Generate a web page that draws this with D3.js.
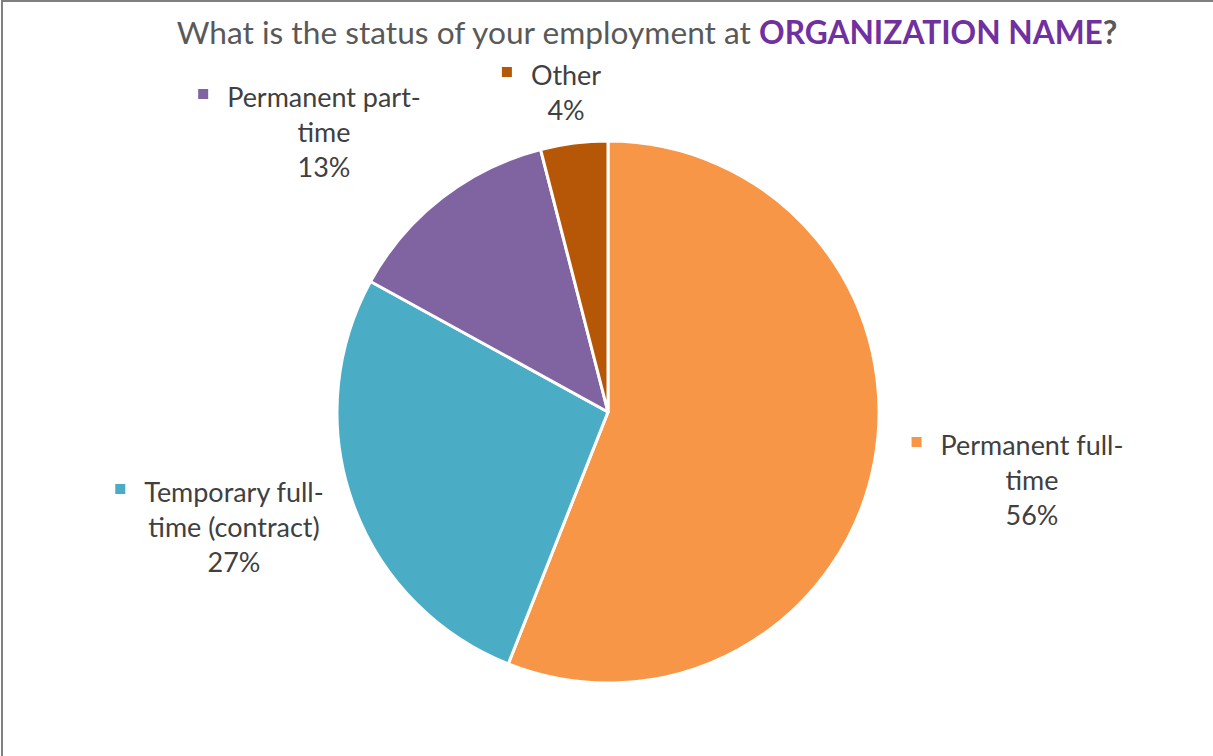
<!DOCTYPE html>
<html>
<head>
<meta charset="utf-8">
<script src="https://cdn.jsdelivr.net/npm/d3@7"></script>
<style>
  html, body { margin: 0; padding: 0; background: #fff; overflow: hidden; }
  svg { display: block; }
</style>
</head>
<body>
<svg id="chart" width="1213" height="756"></svg>
<script>
// Survey answers: employment status
const categories = ["Permanent full-time", "Temporary full-time (contract)", "Permanent part-time", "Other"];
const values = [56, 27, 13, 4];
const labelLines = [["Permanent full-", "time"], ["Temporary full-", "time (contract)"], ["Permanent part-", "time"], ["Other"]];
const sliceColors = ["#F79646", "#4BACC6", "#8064A2", "#B65708"];

const titlePlain = "What is the status of your employment at ";
const titleBold = "ORGANIZATION NAME";
const titleEnd = "?";

// Layout
const W = 1213, H = 756;
const cx = 608, cy = 412, radius = 271;
const FONT = "Lato, 'Open Sans', sans-serif";
// label block centres (x) and first baseline (y)
const labelPos = [
  { x: 1032, y: 455 },
  { x: 234, y: 502 },
  { x: 324, y: 107 },
  { x: 566, y: 85 }
];
const lineGap = 35;

const svg = d3.select("#chart");

// chart frame (top and left edges visible)
svg.append("rect")
  .attr("x", 2).attr("y", 1)
  .attr("width", W + 20).attr("height", H + 20)
  .attr("fill", "none")
  .attr("stroke", "#808080")
  .attr("stroke-width", 2);

// Title
const title = svg.append("text")
  .attr("x", 647).attr("y", 44)
  .attr("text-anchor", "middle")
  .attr("font-family", FONT)
  .attr("font-size", 32)
  .attr("fill", "#595959");
title.append("tspan").text(titlePlain);
title.append("tspan").attr("font-weight", "bold").attr("fill", "#7030A0").text(titleBold);
title.append("tspan").attr("font-weight", "bold").text(titleEnd);
// scale title font so it spans its intended width
{
  const w = title.node().getComputedTextLength();
  title.attr("font-size", 32 * 941 / w);
}

// Pie
const pie = d3.pie().sort(null).value(d => d)(values);
const arc = d3.arc().innerRadius(0).outerRadius(radius);

svg.append("g")
  .attr("transform", `translate(${cx},${cy})`)
  .selectAll("path")
  .data(pie)
  .join("path")
  .attr("d", arc)
  .attr("fill", (d, i) => sliceColors[i])
  .attr("stroke", "#fff")
  .attr("stroke-width", 3)
  .attr("stroke-linejoin", "round");

// label font size fitted from a reference line
let labelSize = 24;
{
  const probe = svg.append("text").attr("font-family", FONT).attr("font-size", 24).text("Permanent full-");
  const w = probe.node().getComputedTextLength();
  labelSize = 24 * 183 / w;
  probe.remove();
}

// Data labels with legend keys
const fmt = v => `${v}%`;
const labels = svg.append("g").selectAll("g")
  .data(pie)
  .join("g");

labels.each(function(d, i) {
  const g = d3.select(this);
  const lines = labelLines[i].concat([fmt(values[i])]);
  const p = labelPos[i];
  const t = g.append("text")
    .attr("font-family", FONT)
    .attr("font-size", labelSize)
    .attr("fill", "#404040")
    .attr("text-anchor", "middle");
  lines.forEach((ln, k) => {
    t.append("tspan").attr("x", p.x).attr("y", p.y + k * lineGap).text(ln);
  });
  // key square left of the first line
  const first = t.select("tspan").node();
  const fw = first.getComputedTextLength();
  g.append("rect")
    .attr("x", p.x - fw / 2 - 29)
    .attr("y", p.y - 18)
    .attr("width", 10).attr("height", 10)
    .attr("fill", sliceColors[i]);
});
</script>
</body>
</html>
